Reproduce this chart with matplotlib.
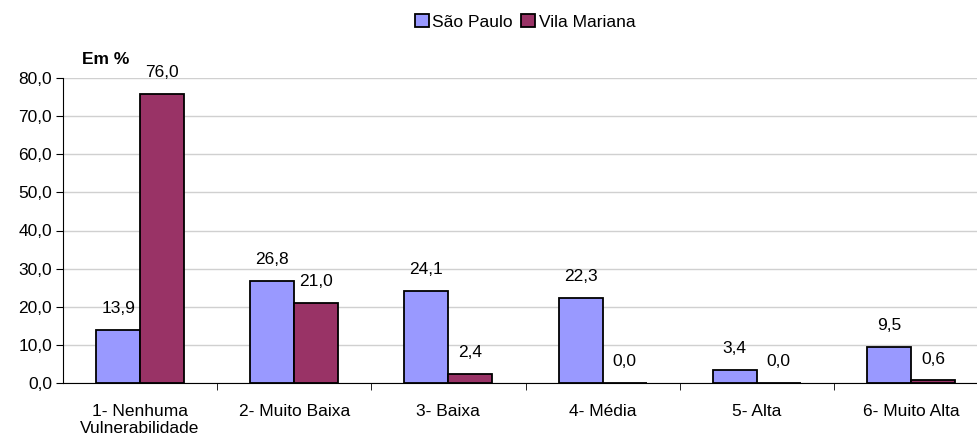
import matplotlib.pyplot as plt
import numpy as np

categories = ["1- Nenhuma\nVulnerabilidade", "2- Muito Baixa", "3- Baixa",
              "4- Média", "5- Alta", "6- Muito Alta"]
sao_paulo = [13.9, 26.8, 24.1, 22.3, 3.4, 9.5]
vila_mariana = [76.0, 21.0, 2.4, 0.0, 0.0, 0.6]

plt.rcParams["font.family"] = ["Liberation Sans", "DejaVu Sans"]
FS = 12.5

fig = plt.figure(figsize=(9.77, 4.41), dpi=100)
ax = fig.add_axes([63 / 977, 1 - 382.7 / 441, 1 - 63 / 977, (382.7 - 78.3) / 441])

x = np.arange(len(categories))
w = 0.285
b1 = ax.bar(x - w / 2, sao_paulo, w, color="#9999FF", edgecolor="black",
            linewidth=1.3, label="São Paulo", zorder=3)
b2 = ax.bar(x + w / 2, vila_mariana, w, color="#993366", edgecolor="black",
            linewidth=1.3, label="Vila Mariana", zorder=3)

for bars, vals in ((b1, sao_paulo), (b2, vila_mariana)):
    for r, v in zip(bars, vals):
        ax.annotate(f"{v:.1f}".replace(".", ","),
                    (r.get_x() + r.get_width() / 2, v),
                    xytext=(0, 10), textcoords="offset points",
                    ha="center", va="bottom", fontsize=FS)

ax.set_xlim(-0.5, 5.5 - 11 / 154)
ax.set_ylim(0, 80)
ax.set_yticks(np.arange(0, 81, 10))
ax.set_yticklabels([f"{v:.1f}".replace(".", ",") for v in np.arange(0, 81, 10)],
                   fontsize=FS)
ax.set_xticks(x)
ax.set_xticklabels(categories, fontsize=FS)
ax.tick_params(axis="x", which="major", length=0, pad=15)
ax.set_xticks(np.arange(0.5, 5.5, 1), minor=True)
ax.tick_params(axis="x", which="minor", length=5, direction="out")
ax.tick_params(axis="y", length=5, direction="out", pad=3)
ax.grid(axis="y", color="#d0d0d0", linewidth=1, zorder=0)
ax.spines["top"].set_visible(False)
ax.spines["right"].set_visible(False)

ax.text(82 / 977, 1 - 60 / 441, "Em %", transform=fig.transFigure,
        fontsize=FS, fontweight="bold", ha="left", va="center")

fig.legend(handles=[b1, b2], loc="center", bbox_to_anchor=(525 / 977, 1 - 22 / 441),
           ncol=2, frameon=False, fontsize=FS, handlelength=0.8, handleheight=0.8,
           handletextpad=0.2, columnspacing=0.5)

fig.savefig("out.png", dpi=100)
